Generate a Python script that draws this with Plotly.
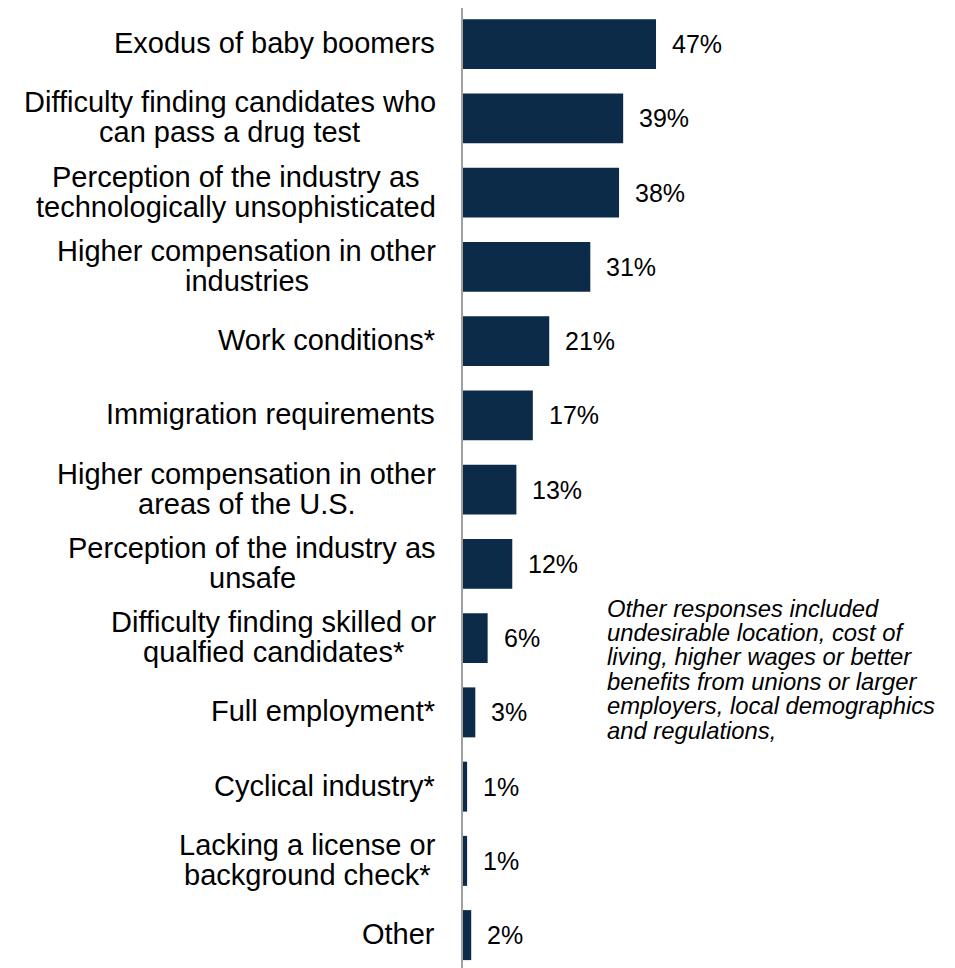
import plotly.graph_objects as go

# Survey responses: factors contributing to the workforce shortage
categories = [
    "Exodus of baby boomers",
    "Difficulty finding candidates who<br>can pass a drug test",
    "Perception of the industry as<br>technologically unsophisticated",
    "Higher compensation in other<br>industries",
    "Work conditions*",
    "Immigration requirements",
    "Higher compensation in other<br>areas of the U.S.",
    "Perception of the industry as<br>unsafe",
    "Difficulty finding skilled or<br>qualfied candidates*",
    "Full employment*",
    "Cyclical industry*",
    "Lacking a license or<br>background check*",
    "Other",
]
shares = [47, 39, 38, 31, 21, 17, 13, 12, 6, 3, 1, 1, 2]
value_labels = [f"{v}%" for v in shares]
note_lines = [
    "Other responses included",
    "undesirable location, cost of",
    "living, higher wages or better",
    "benefits from unions or larger",
    "employers, local demographics",
    "and regulations,",
]

W, H = 955, 968
M_L, M_R, M_T, M_B = 463, 0, 7, 0
PLOT_W = W - M_L - M_R
PLOT_H = H - M_T - M_B
PITCH = 74.25
X_MAX = 119.8
Y_TOP = -0.5
Y_BOT = Y_TOP + PLOT_H / PITCH

BAR_COLOR = "#0b2b48"
FONT = "Liberation Sans, Arial, sans-serif"
CAT_SIZE = 29
VAL_SIZE = 25
NOTE_SIZE = 23.8
LABEL_RIGHT = 27   # gap between the label block and the axis, px

# Advance widths (1/1000 em) of Liberation Sans / Arial, used to centre the
# lines of a multi-line label on each other with a custom line gap.
_W = {" ": 278, "*": 389, ".": 278, ",": 278, "-": 333}
_W.update(dict(zip("abcdefghijklmnopqrstuvwxyz",
                   [556, 556, 500, 556, 556, 278, 556, 556, 222, 222, 500, 222, 833,
                    556, 556, 556, 556, 333, 500, 278, 556, 500, 722, 500, 500, 500])))
_W.update(dict(zip("ABCDEFGHIJKLMNOPQRSTUVWXYZ",
                   [667, 667, 722, 722, 667, 611, 778, 722, 278, 500, 667, 556, 833,
                    722, 778, 667, 778, 722, 667, 611, 722, 667, 944, 667, 667, 611])))


def text_width(s, size):
    return sum(_W.get(ch, 556) for ch in s) * size / 1000.0


positions = list(range(len(categories)))

fig = go.Figure(
    go.Bar(
        x=shares,
        y=positions,
        orientation="h",
        marker=dict(color=BAR_COLOR, line=dict(width=0)),
        hoverinfo="skip",
    )
)

annotations = []

# category labels: block right-aligned next to the axis, lines centred
LINE_GAP = 30
for pos, label in zip(positions, categories):
    lines = label.split("<br>")
    n = len(lines)
    if n == 1:
        annotations.append(dict(
            x=0, xref="paper", xanchor="right", xshift=-(LABEL_RIGHT - 1),
            y=pos, yref="y", yanchor="middle", yshift=1,
            text=lines[0], showarrow=False,
            font=dict(family=FONT, size=CAT_SIZE, color="#000000"),
        ))
        continue
    block_w = max(text_width(ln, CAT_SIZE) for ln in lines)
    for k, ln in enumerate(lines):
        offset = (k - (n - 1) / 2) * LINE_GAP
        annotations.append(dict(
            x=0, xref="paper", xanchor="center",
            xshift=-(LABEL_RIGHT + block_w / 2),
            y=pos, yref="y", yanchor="middle", yshift=-offset + 1,
            text=ln, showarrow=False,
            font=dict(family=FONT, size=CAT_SIZE, color="#000000"),
        ))

# value labels to the right of each bar
for pos, v, lab in zip(positions, shares, value_labels):
    annotations.append(dict(
        x=v, xref="x", xanchor="left", xshift=14,
        y=pos, yref="y", yanchor="middle", yshift=0,
        text=lab, showarrow=False,
        font=dict(family=FONT, size=VAL_SIZE, color="#000000"),
    ))

# italic note beside the lower bars
NOTE_X = 605
NOTE_Y0 = 608
NOTE_GAP = 24.4
for k, line in enumerate(note_lines):
    ypix = NOTE_Y0 + k * NOTE_GAP
    annotations.append(dict(
        x=(NOTE_X - M_L) / PLOT_W, xref="paper", xanchor="left",
        y=1 - (ypix - M_T) / PLOT_H, yref="paper", yanchor="middle",
        text=f"<i>{line}</i>", showarrow=False,
        font=dict(family=FONT, size=NOTE_SIZE, color="#000000"),
    ))

fig.update_layout(
    width=W, height=H,
    margin=dict(l=M_L, r=M_R, t=M_T, b=M_B, pad=0),
    paper_bgcolor="#ffffff",
    plot_bgcolor="#ffffff",
    showlegend=False,
    bargap=0.327,
    annotations=annotations,
    xaxis=dict(range=[0, X_MAX], visible=False, fixedrange=True),
    yaxis=dict(range=[Y_BOT, Y_TOP], visible=False, fixedrange=True),
    shapes=[dict(
        type="line", xref="paper", yref="paper",
        x0=-1.0 / PLOT_W, x1=-1.0 / PLOT_W,
        y0=0, y1=1.0 - (8 - M_T) / PLOT_H,
        line=dict(color="#a0a0a0", width=2),
    )],
)

fig.write_html("out.html", config={"displayModeBar": False})
